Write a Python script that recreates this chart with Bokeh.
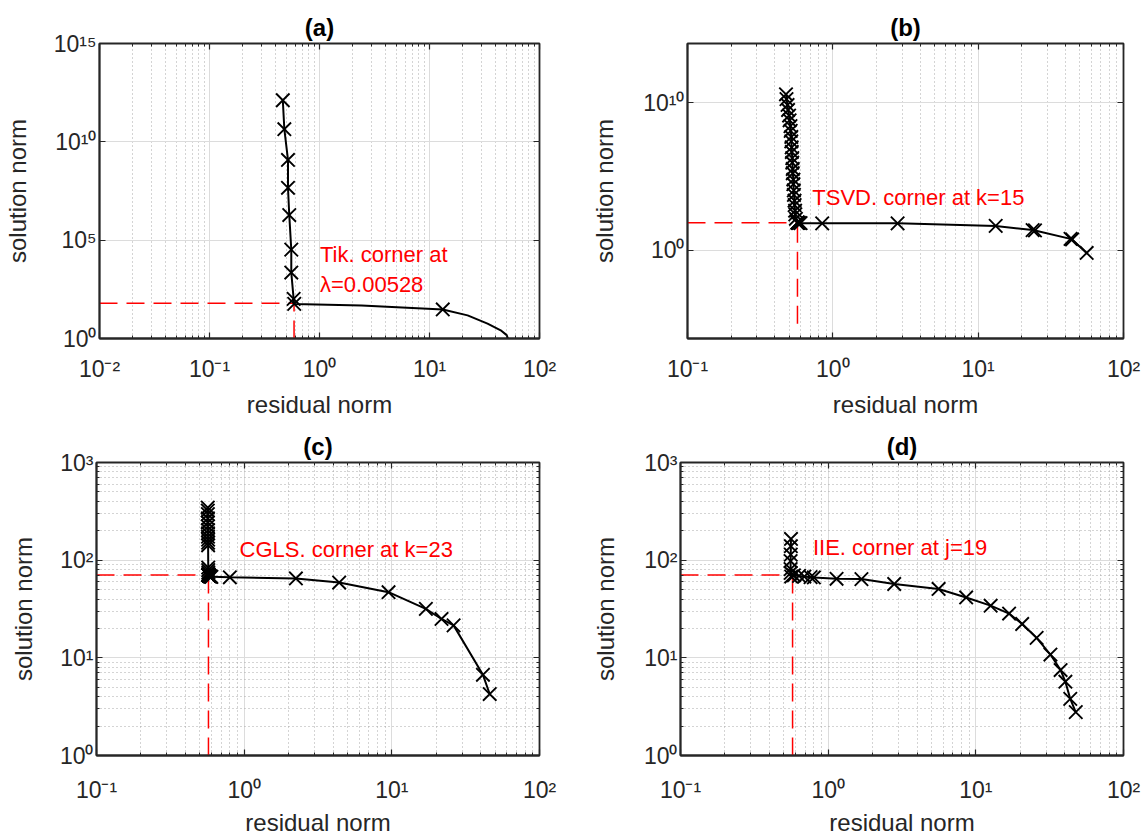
from bokeh.plotting import figure
from bokeh.layouts import row, column
from bokeh.models import FixedTicker, LogAxis, CustomJSTickFormatter, Range1d
from bokeh.core.properties import value
from bokeh.embed import file_html
from bokeh.resources import INLINE

# ---------------- data ----------------
# (a) Tikhonov L-curve: continuous curve + markers
A_CURVE_RES = [0.464, 0.479, 0.517, 0.517, 0.531, 0.554, 0.554, 0.582, 0.589, 2.41, 13.2, 22.2, 33.7, 44.4, 50.3, 51.6]
A_CURVE_SOL = [1.3e12, 4.4e10, 1.2e9, 4.6e7, 1.9e6, 3.3e4, 2250, 103, 57.5, 48, 30, 15, 5.7, 2.6, 1.48, 1.0]
A_MARK_RES = [0.464, 0.479, 0.517, 0.517, 0.531, 0.554, 0.554, 0.582, 0.589, 13.2]
A_MARK_SOL = [1.3e12, 4.4e10, 1.2e9, 4.6e7, 1.9e6, 3.3e4, 2250, 103, 57.5, 30]
A_CORNER = (0.587, 62.0)
A_TEXT = ["Tik. corner at", "\u03bb=0.00528"]
A_TEXT_X = [1.01, 1.01]
A_TEXT_Y = [1.9e4, 5.4e2]

# (b) TSVD
B_RES = [55.8, 44.3, 43.2, 24.6, 23.7, 13.2, 2.79, 0.845, 0.60, 0.585, 0.578, 0.575, 0.573, 0.572, 0.571,
         0.557, 0.552, 0.550, 0.546, 0.545, 0.540, 0.539, 0.535, 0.535, 0.530, 0.530, 0.526, 0.526,
         0.522, 0.521, 0.518, 0.518, 0.513, 0.511, 0.504, 0.500, 0.492, 0.488, 0.480, 0.476]
B_SOL = [0.63, 5.2, 5.7, 21.3, 22.3, 43, 64, 64, 66, 68, 69, 70, 70.5, 70.8, 71,
         1.3e2, 2.6e2, 4.6e2, 1.1e3, 2.2e3, 5.5e3, 1.1e4, 2.9e4, 6.0e4, 1.6e5, 3.1e5, 8.3e5, 1.7e6,
         4.4e6, 9.1e6, 2.3e7, 4.6e7, 1.2e8, 2.5e8, 6.2e8, 1.3e9, 3.1e9, 6.8e9, 1.7e10, 3.6e10]
B_CORNER = (0.571, 71.0)
B_VLINE_BOTTOM = 1e-5
B_TEXT = ["TSVD. corner at k=15"]
B_TEXT_X = [0.722]
B_TEXT_Y = [3.4e3]

# (c) CGLS
C_RES = [46.0, 41.4, 26.2, 21.7, 17.0, 9.5, 4.4, 2.24, 0.80, 0.600, 0.592, 0.586, 0.582, 0.579, 0.577,
         0.576, 0.575, 0.574, 0.574, 0.573, 0.573, 0.573, 0.573,
         0.572, 0.572, 0.571, 0.571, 0.570, 0.570, 0.570, 0.569, 0.569, 0.569, 0.568, 0.568, 0.568,
         0.568, 0.567, 0.567]
C_SOL = [4.26, 6.7, 21.5, 25.0, 31.7, 47.0, 59.0, 65.0, 66.8, 67.5, 68.0, 68.4, 68.8, 69.1, 69.4,
         69.6, 69.8, 70.0, 70.1, 70.2, 70.3, 70.3, 70.3,
         72, 75, 79, 84, 142, 151, 162, 174, 188, 203, 222, 243, 268, 296, 322, 345]
C_CORNER = (0.573, 70.6)
C_TEXT = ["CGLS. corner at k=23"]
C_TEXT_X = [0.93]
C_TEXT_Y = [128]

# (d) IIE
D_RES = [47.5, 43.6, 40.4, 37.5, 32.0, 25.8, 20.6, 16.8, 12.6, 8.6, 5.6, 2.8, 1.68, 1.14, 0.80,
         0.76, 0.69, 0.635, 0.586, 0.562, 0.558, 0.557, 0.557, 0.558, 0.559, 0.560]
D_SOL = [2.78, 3.8, 5.7, 7.5, 10.8, 16.0, 22.2, 28.4, 34.2, 41.5, 50.7, 57.0, 64.0, 64.5, 66.5,
         67.0, 68.0, 69.0, 70.0, 68.0, 74.0, 81.0, 98.0, 114.0, 139.0, 165.0]
D_CORNER = (0.574, 70.6)
D_TEXT = ["IIE. corner at j=19"]
D_TEXT_X = [0.789]
D_TEXT_Y = [134]

TITLES = ["(a)", "(b)", "(c)", "(d)"]
X_LABEL = "residual norm"
Y_LABEL = "solution norm"

# ---------------- styling ----------------
FONT = "Liberation Sans"
AX = "#262626"
RED = "#ff0000"

SUP_JS = """
const m = {"-": "\\u207b", "0": "\\u2070", "1": "\\u00b9", "2": "\\u00b2", "3": "\\u00b3",
           "4": "\\u2074", "5": "\\u2075", "6": "\\u2076", "7": "\\u2077", "8": "\\u2078", "9": "\\u2079"};
const e = Math.round(Math.log10(tick));
return "10" + String(e).split("").map(c => m[c]).join("");
"""


def decades(lo, hi, minor=True):
    major = [10.0 ** e for e in range(lo, hi + 1)]
    mins = [k * 10.0 ** e for e in range(lo, hi) for k in range(2, 10)] if minor else []
    return major, mins


def style_axis(ax, label_standoff, tick_standoff):
    ax.axis_line_color = AX
    ax.axis_line_width = 1.8
    ax.major_tick_line_color = AX
    ax.minor_tick_line_color = AX
    ax.major_tick_line_width = 1.2
    ax.minor_tick_line_width = 1.0
    ax.major_tick_in = 6
    ax.major_tick_out = 0
    ax.minor_tick_in = 3
    ax.minor_tick_out = 0
    ax.major_label_text_font = FONT
    ax.major_label_text_font_size = "23px"
    ax.major_label_text_color = AX
    ax.major_label_standoff = tick_standoff
    ax.axis_label_text_font = FONT
    ax.axis_label_text_font_size = "24px"
    ax.axis_label_text_font_style = "normal"
    ax.axis_label_text_color = AX
    ax.axis_label_standoff = label_standoff


def blank_axis(ticker):
    a = LogAxis(ticker=ticker, formatter=CustomJSTickFormatter(code="return ''"))
    a.axis_line_color = None
    a.major_label_standoff = 0
    a.major_label_text_font_size = "0px"
    a.major_tick_in = 6
    a.major_tick_out = 0
    a.minor_tick_in = 3
    a.minor_tick_out = 0
    a.major_tick_line_color = AX
    a.minor_tick_line_color = AX
    a.major_tick_line_width = 1.2
    return a


def make_panel(title, xr, yr, xt, yt, ygrid_minor, size, borders, ylab_so, xlab_so, xtick_so):
    w, h = size
    bl, br, bt, bb = borders
    p = figure(width=w, height=h, x_axis_type="log", y_axis_type="log",
               x_range=Range1d(*xr), y_range=Range1d(*yr),
               output_backend="svg", toolbar_location=None,
               min_border_left=bl, min_border_right=br, min_border_top=bt, min_border_bottom=bb,
               x_axis_label=X_LABEL, y_axis_label=Y_LABEL)
    xtick = FixedTicker(ticks=xt[0], minor_ticks=xt[1])
    ytick = FixedTicker(ticks=yt[0], minor_ticks=yt[1])
    p.xaxis.ticker = xtick
    p.yaxis.ticker = ytick
    p.xaxis.formatter = CustomJSTickFormatter(code=SUP_JS)
    p.yaxis.formatter = CustomJSTickFormatter(code=SUP_JS)
    style_axis(p.xaxis[0], xlab_so, xtick_so)
    style_axis(p.yaxis[0], ylab_so, 3)
    p.add_layout(blank_axis(ytick), "right")
    p.add_layout(blank_axis(xtick), "above")

    p.xgrid.grid_line_color = "#dcdcdc"
    p.ygrid.grid_line_color = "#dcdcdc"
    p.xgrid.grid_line_width = 1
    p.ygrid.grid_line_width = 1
    p.xgrid.minor_grid_line_color = "#a8a8a8"
    p.xgrid.minor_grid_line_dash = "1 3"
    if ygrid_minor:
        p.ygrid.minor_grid_line_color = "#a8a8a8"
        p.ygrid.minor_grid_line_dash = "1 3"
    else:
        p.ygrid.minor_grid_line_color = None

    p.outline_line_color = AX
    p.outline_line_width = 1.8
    p.outline_line_alpha = 1.0

    p.title.text = title
    p.title.align = "center"
    p.title.text_font = FONT
    p.title.text_font_size = "24px"
    p.title.text_font_style = "bold"
    p.title.text_color = "#000000"
    p.title.standoff = 6
    return p


def add_content(p, xr, yr, corner, vbottom, curve, marks, texts):
    cx, cy = corner
    p.line([xr[0], cx], [cy, cy], line_color=RED, line_width=1.5, line_dash="18 9")
    p.line([cx, cx], [vbottom, cy], line_color=RED, line_width=1.5, line_dash="18 9")
    p.line(curve[0], curve[1], line_color="black", line_width=2)
    p.scatter(marks[0], marks[1], marker="x", size=19, line_color="black", line_width=1.9)
    p.text(x=texts[1], y=texts[2], text=texts[0], text_color=RED,
           text_font=value(FONT), text_font_size=value("22px"),
           text_baseline="middle", text_align="left")


LEFT_W, RIGHT_W = 588, 556
TOP_H, BOT_H = 420, 418

# ranges
XR_A, YR_A = (1e-2, 1e2), (1e0, 1e15)
XR_B, YR_B = (1e-1, 1e2), (1e-6, 1e14)
XR_CD, YR_CD = (1e-1, 1e2), (1e0, 1e3)

pa = make_panel(TITLES[0], XR_A, YR_A, decades(-2, 2), ([1e0, 1e5, 1e10, 1e15], []), False,
                (LEFT_W, TOP_H), (96, 49, 43, 79), 20, 6, 17)
add_content(pa, XR_A, YR_A, A_CORNER, YR_A[0], (A_CURVE_RES, A_CURVE_SOL), (A_MARK_RES, A_MARK_SOL),
            (A_TEXT, A_TEXT_X, A_TEXT_Y))

pb = make_panel(TITLES[1], XR_B, YR_B, decades(-1, 2), ([1e0, 1e10], []), False,
                (RIGHT_W, TOP_H), (92, 21, 43, 79), 22, 6, 17)
add_content(pb, XR_B, YR_B, B_CORNER, B_VLINE_BOTTOM, (B_RES, B_SOL), (B_RES, B_SOL),
            (B_TEXT, B_TEXT_X, B_TEXT_Y))

pc = make_panel(TITLES[2], XR_CD, YR_CD, decades(-1, 2), decades(0, 3), True,
                (LEFT_W, BOT_H), (96, 49, 42, 79), 20, 3, 21)
add_content(pc, XR_CD, YR_CD, C_CORNER, YR_CD[0], (C_RES, C_SOL), (C_RES, C_SOL),
            (C_TEXT, C_TEXT_X, C_TEXT_Y))

pd = make_panel(TITLES[3], XR_CD, YR_CD, decades(-1, 2), decades(0, 3), True,
                (RIGHT_W, BOT_H), (92, 21, 42, 79), 22, 3, 21)
add_content(pd, XR_CD, YR_CD, D_CORNER, YR_CD[0], (D_RES, D_SOL), (D_RES, D_SOL),
            (D_TEXT, D_TEXT_X, D_TEXT_Y))

layout = column(row(pa, pb), row(pc, pd))

html = file_html(layout, INLINE, title="L-curves")
with open("out.html", "w", encoding="utf-8") as f:
    f.write(html)
